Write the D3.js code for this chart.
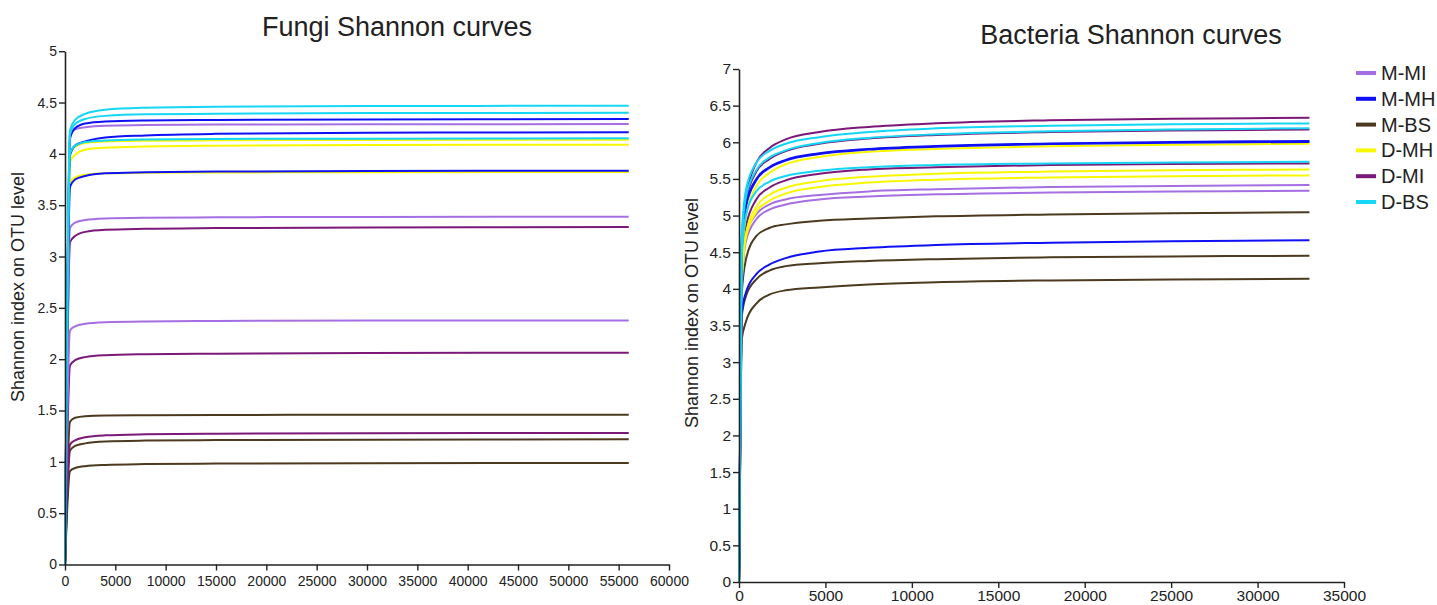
<!DOCTYPE html>
<html>
<head>
<meta charset="utf-8">
<script src="https://cdn.jsdelivr.net/npm/d3@7/dist/d3.min.js"></script>
<style>
  html, body { margin: 0; padding: 0; background: #fff; }
  svg { display: block; }
  text { font-family: "Liberation Sans", Arial, sans-serif; fill: #222; }
</style>
</head>
<body>
<svg id="chart" width="1437" height="605"></svg>
<script>
// ---------- data ----------
const groups = ["M-MI", "M-MH", "M-BS", "D-MH", "D-MI", "D-BS"];
const groupColors = ["#a56fe3", "#1010f5", "#4b3a1f", "#f7f700", "#7b1879", "#14d6f5"];

// Fungi: rarefaction depth and Shannon values (3 samples per group)
const fungiDepth = [0, 500, 1000, 2000, 4000, 8000, 15000, 30000, 56000];
const fungiMMI = [
  [0, 4.20, 4.24, 4.26, 4.275, 4.28, 4.285, 4.288, 4.29],
  [0, 3.28, 3.33, 3.355, 3.37, 3.378, 3.382, 3.386, 3.388],
  [0, 2.28, 2.32, 2.345, 2.36, 2.368, 2.372, 2.376, 2.378]
];
const fungiMMH = [
  [0, 4.15, 4.25, 4.295, 4.315, 4.325, 4.33, 4.335, 4.339],
  [0, 3.99, 4.08, 4.12, 4.16, 4.18, 4.195, 4.205, 4.21],
  [0, 3.68, 3.75, 3.785, 3.81, 3.82, 3.828, 3.833, 3.836]
];
const fungiMBS = [
  [0, 1.39, 1.43, 1.445, 1.452, 1.455, 1.457, 1.458, 1.459],
  [0, 1.11, 1.155, 1.18, 1.198, 1.207, 1.212, 1.216, 1.219],
  [0, 0.91, 0.94, 0.958, 0.97, 0.978, 0.983, 0.987, 0.989]
];
const fungiDMH = [
  [0, 3.98, 4.07, 4.105, 4.12, 4.128, 4.132, 4.136, 4.138],
  [0, 3.92, 3.99, 4.04, 4.06, 4.072, 4.08, 4.086, 4.089],
  [0, 3.72, 3.77, 3.795, 3.81, 3.815, 3.818, 3.821, 3.823]
];
const fungiDMI = [
  [0, 3.14, 3.20, 3.24, 3.26, 3.27, 3.277, 3.283, 3.287],
  [0, 1.94, 1.99, 2.02, 2.038, 2.048, 2.054, 2.06, 2.063],
  [0, 1.17, 1.21, 1.24, 1.258, 1.268, 1.274, 1.278, 1.281]
];
const fungiDBS = [
  [0, 4.23, 4.33, 4.39, 4.43, 4.45, 4.46, 4.465, 4.469],
  [0, 4.19, 4.29, 4.34, 4.37, 4.385, 4.39, 4.397, 4.40],
  [0, 4.00, 4.08, 4.115, 4.13, 4.14, 4.145, 4.148, 4.151]
];

// Bacteria
const bactDepth = [0, 150, 400, 1000, 1750, 2700, 4650, 7500, 11400, 18000, 25000, 33000];
const bactMMI = [
  [0, 4.10, 4.75, 5.02, 5.15, 5.22, 5.28, 5.33, 5.36, 5.39, 5.405, 5.416],
  [0, 4.00, 4.65, 4.95, 5.08, 5.15, 5.22, 5.26, 5.29, 5.315, 5.328, 5.338]
];
const bactMMH = [
  [0, 4.50, 5.15, 5.50, 5.66, 5.76, 5.85, 5.91, 5.95, 5.985, 6.005, 6.017],
  [0, 4.45, 5.12, 5.48, 5.65, 5.75, 5.84, 5.90, 5.94, 5.975, 5.993, 6.005],
  [0, 3.65, 3.95, 4.20, 4.33, 4.42, 4.51, 4.56, 4.60, 4.63, 4.648, 4.662]
];
const bactMBS = [
  [0, 3.90, 4.40, 4.72, 4.83, 4.88, 4.93, 4.96, 4.99, 5.015, 5.032, 5.044],
  [0, 3.60, 3.90, 4.13, 4.25, 4.31, 4.35, 4.38, 4.405, 4.43, 4.443, 4.452],
  [0, 3.30, 3.55, 3.80, 3.92, 3.98, 4.02, 4.06, 4.09, 4.115, 4.128, 4.138]
];
const bactDMH = [
  [0, 4.30, 5.00, 5.40, 5.58, 5.70, 5.80, 5.87, 5.91, 5.945, 5.965, 5.98],
  [0, 4.10, 4.75, 5.12, 5.28, 5.38, 5.47, 5.53, 5.57, 5.60, 5.617, 5.63],
  [0, 4.05, 4.70, 5.05, 5.20, 5.30, 5.39, 5.45, 5.49, 5.52, 5.537, 5.548]
];
const bactDMI = [
  [0, 4.60, 5.25, 5.72, 5.92, 6.04, 6.14, 6.21, 6.26, 6.30, 6.32, 6.334],
  [0, 4.55, 5.20, 5.60, 5.77, 5.88, 5.98, 6.05, 6.10, 6.14, 6.16, 6.175],
  [0, 4.20, 4.85, 5.22, 5.38, 5.48, 5.57, 5.63, 5.66, 5.69, 5.703, 5.712]
];
const bactDBS = [
  [0, 4.70, 5.35, 5.72, 5.88, 5.98, 6.07, 6.14, 6.19, 6.225, 6.245, 6.258],
  [0, 4.60, 5.25, 5.62, 5.79, 5.89, 5.99, 6.06, 6.11, 6.15, 6.175, 6.19],
  [0, 4.40, 5.00, 5.33, 5.46, 5.54, 5.61, 5.66, 5.69, 5.71, 5.724, 5.734]
];

const fungiXTicks = [0, 5000, 10000, 15000, 20000, 25000, 30000, 35000, 40000, 45000, 50000, 55000, 60000];
const fungiYTicks = [0, 0.5, 1, 1.5, 2, 2.5, 3, 3.5, 4, 4.5, 5];
const bactXTicks = [0, 5000, 10000, 15000, 20000, 25000, 30000, 35000];
const bactYTicks = [0, 0.5, 1, 1.5, 2, 2.5, 3, 3.5, 4, 4.5, 5, 5.5, 6, 6.5, 7];

const yTitle = "Shannon index on OTU level";

// ---------- drawing ----------
const svg = d3.select("#chart");

function panel(opts) {
  const g = svg.append("g");
  const x = d3.scaleLinear().domain(opts.xDomain).range(opts.xRange);
  const y = d3.scaleLinear().domain(opts.yDomain).range(opts.yRange);

  const line = d3.line()
    .x((d, i) => x(opts.depth[i]))
    .y(d => y(d))
    .curve(d3.curveMonotoneX);

  const drawOrder = [2, 4, 0, 3, 1, 5];
  drawOrder.forEach(gi => {
    opts.series[gi].forEach(vals => {
      g.append("path")
        .attr("d", line(vals))
        .attr("fill", "none")
        .attr("stroke", groupColors[gi])
        .attr("stroke-width", 2);
    });
  });

  const xAxis = g.append("g")
    .attr("transform", `translate(0,${opts.yRange[0]})`)
    .call(d3.axisBottom(x).tickValues(opts.xTicks).tickFormat(d3.format("d")).tickSize(6).tickSizeOuter(0));
  const yAxis = g.append("g")
    .attr("transform", `translate(${opts.xRange[0]},0)`)
    .call(d3.axisLeft(y).tickValues(opts.yTicks).tickFormat(d => String(d)).tickSize(6).tickSizeOuter(0));

  [xAxis, yAxis].forEach(a => {
    a.selectAll("path.domain").attr("stroke", "#222").attr("stroke-width", 1.6);
    a.selectAll(".tick line").attr("stroke", "#222").attr("stroke-width", 1.4);
    a.selectAll(".tick text")
      .attr("font-family", "'Liberation Sans', Arial, sans-serif")
      .attr("font-size", opts.tickFont)
      .attr("fill", "#333");
  });
  xAxis.selectAll(".tick text").attr("y", 8).attr("dy", opts.xLabelDy);
  yAxis.selectAll(".tick text").attr("x", -8);

  g.append("text")
    .attr("x", opts.titleX).attr("y", opts.titleY)
    .attr("text-anchor", "middle")
    .attr("font-size", 27)
    .text(opts.title);

  g.append("text")
    .attr("transform", `translate(${opts.yTitleX},${opts.yTitleY}) rotate(-90)`)
    .attr("text-anchor", "middle")
    .attr("font-size", 18)
    .text(yTitle);
}

panel({
  title: "Fungi Shannon curves", titleX: 397, titleY: 36,
  xDomain: [0, 60000], xRange: [65, 669],
  yDomain: [0, 5], yRange: [564.5, 51.2],
  depth: fungiDepth,
  series: [fungiMMI, fungiMMH, fungiMBS, fungiDMH, fungiDMI, fungiDBS],
  xTicks: fungiXTicks, yTicks: fungiYTicks,
  tickFont: 14, xLabelDy: "0.95em", yTitleX: 24, yTitleY: 287
});

panel({
  title: "Bacteria Shannon curves", titleX: 1131, titleY: 44,
  xDomain: [0, 35000], xRange: [739, 1344],
  yDomain: [0, 7], yRange: [582, 69],
  depth: bactDepth,
  series: [bactMMI, bactMMH, bactMBS, bactDMH, bactDMI, bactDBS],
  xTicks: bactXTicks, yTicks: bactYTicks,
  tickFont: 15.5, xLabelDy: "0.72em", yTitleX: 698, yTitleY: 313
});

// legend
const legend = svg.append("g").attr("transform", "translate(1356,73)");
groups.forEach((name, i) => {
  const row = legend.append("g").attr("transform", `translate(0,${i * 25.8})`);
  row.append("line").attr("x1", 0).attr("x2", 20).attr("y1", 0).attr("y2", 0)
    .attr("stroke", groupColors[i]).attr("stroke-width", 4);
  row.append("text").attr("x", 25).attr("y", 7).attr("font-size", 20).text(name);
});
</script>
</body>
</html>
